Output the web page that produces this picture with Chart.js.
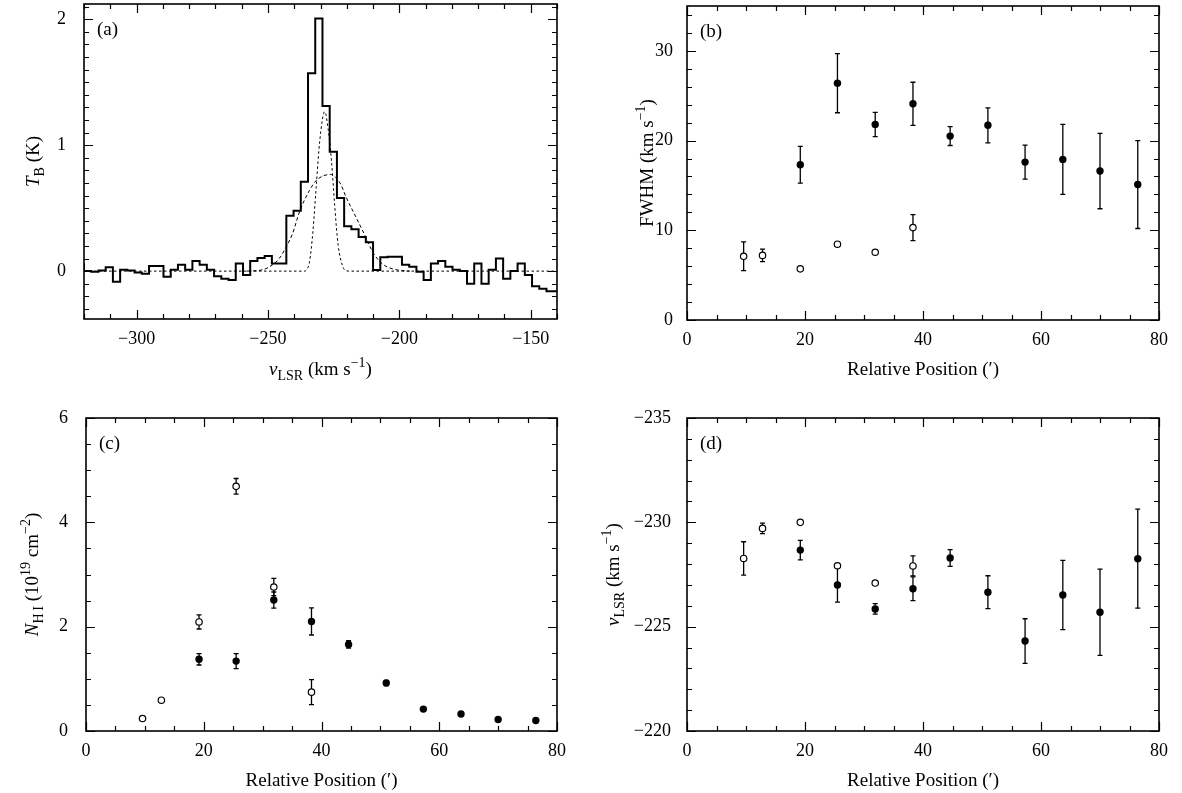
<!DOCTYPE html>
<html>
<head>
<meta charset="utf-8">
<script src="https://cdn.jsdelivr.net/npm/chart.js@4.4.0/dist/chart.umd.min.js"></script>
<style>
  body { margin: 0; background: #fff; }
  #wrap { position: relative; width: 1182px; height: 793px; }
  canvas { position: absolute; }
</style>
</head>
<body>
<div id="wrap">
  <canvas id="chartA" width="600" height="396" style="left:0;top:0"></canvas>
  <canvas id="chartB" width="582" height="396" style="left:600px;top:0"></canvas>
  <canvas id="chartC" width="600" height="397" style="left:0;top:396px"></canvas>
  <canvas id="chartD" width="582" height="397" style="left:600px;top:396px"></canvas>
</div>
<script>
// ---- panel (a): HI spectrum, channel edges (km/s) and brightness temp (K)
var velEdges = [-320, -317.25, -314.5, -311.75, -309, -306.25, -303.5, -300.75, -298, -295.25,
  -292.5, -289.75, -287, -284.25, -281.5, -278.75, -276, -273.25, -270.5, -267.75,
  -265, -262.25, -259.5, -256.75, -254, -251.25, -248.5, -245.75, -243, -240.25,
  -237.5, -234.75, -232, -229.25, -226.5, -223.75, -221, -218.25, -215.5, -212.75,
  -210, -207.25, -204.5, -201.75, -199, -196.25, -193.5, -190.75, -188, -185.25,
  -182.5, -179.75, -177, -174.25, -171.5, -168.75, -166, -163.25, -160.5, -157.75,
  -155, -152.25, -149.5, -146.75, -144, -141.25, -138.5];
var tbSpectrum = [0.06, 0.0, -0.005, 0.005, 0.03, -0.085, 0.01, 0.005, -0.01, -0.02,
  0.04, 0.04, -0.045, 0.01, 0.05, 0.01, 0.08, 0.05, 0.01, -0.04,
  -0.06, -0.07, 0.06, -0.03, 0.08, 0.105, 0.12, 0.06, 0.06, 0.44,
  0.48, 0.71, 1.57, 2.005, 1.31, 0.947, 0.58, 0.357, 0.333, 0.27,
  0.23, 0.008, 0.11, 0.115, 0.115, 0.05, 0.035, -0.005, -0.07, 0.06,
  0.08, 0.035, 0.01, 0.0, -0.1, 0.06, -0.1, 0.01, 0.1, -0.06,
  0.0, 0.06, -0.03, -0.12, -0.14, -0.16];

// fitted components
var narrowVel = [-320, -236, -235, -234.2, -232.9, -231.6, -230.3, -228.4, -227.1, -225.8, -224.6, -223.3, -221.4, -220.3, -219.5, -140];
var narrowTb  = [0, 0, 0.02, 0.07, 0.31, 0.68, 1.03, 1.265, 1.13, 0.87, 0.52, 0.21, 0.03, 0.005, 0, 0];
var broadVel = [-258, -252.1, -248.3, -245.7, -243.1, -240.6, -238.0, -234.2, -231.6, -226.2, -222.6, -220.1, -217.5, -213.7, -209.8, -206.0, -200.9, -196];
var broadTb  = [0, 0.01, 0.05, 0.1, 0.19, 0.3, 0.47, 0.64, 0.72, 0.767, 0.70, 0.58, 0.47, 0.31, 0.14, 0.05, 0.01, 0];

// ---- panels (b)-(d): relative position (arcmin)
var posOpen   = [9.6, 12.8, 19.2, 25.5, 31.9, 38.3];
var posFilled = [19.2, 25.5, 31.9, 38.3, 44.6, 51.0, 57.3, 63.7, 70.0, 76.4];

var fwhmOpen      = [7.1, 7.2, 5.7, 8.45, 7.55, 10.3];
var fwhmOpenErr   = [1.6, 0.7, 0, 0, 0, 1.45];
var fwhmFilled    = [17.3, 26.4, 21.8, 24.1, 20.5, 21.7, 17.6, 17.9, 16.6, 15.1];
var fwhmFilledErr = [2.05, 3.3, 1.35, 2.4, 1.05, 1.95, 1.9, 3.9, 4.2, 4.9];

var nhiOpen      = [0.24, 0.59, 2.09, 4.69, 2.76, 0.745];
var nhiOpenErr   = [0, 0, 0.135, 0.15, 0.165, 0.24];
var nhiFilled    = [1.375, 1.34, 2.51, 2.10, 1.66, 0.92, 0.42, 0.325, 0.22, 0.20];
var nhiFilledErr = [0.11, 0.145, 0.155, 0.26, 0.07, 0.05, 0.03, 0.03, 0.02, 0.03];

var vlsrOpen      = [-228.27, -229.71, -230.0, -227.92, -227.09, -227.91];
var vlsrOpenErr   = [0.8, 0.25, 0, 0, 0, 0.48];
var vlsrFilled    = [-228.67, -227.0, -225.85, -226.82, -228.29, -226.65, -224.31, -226.52, -225.69, -228.26];
var vlsrFilledErr = [0.47, 0.82, 0.25, 0.57, 0.4, 0.79, 1.07, 1.66, 2.07, 2.37];

var serif = '"Liberation Serif", "Times New Roman", serif';
var fontSize = 18;
var titleSize = 19;
var yAxisW = 60, xAxisH = 40;

function minus(v) { return String(v).replace('-', '\u2212'); }

function pairs(xs, ys) {
  return xs.map(function(x, i) { return { x: x, y: ys[i] }; });
}

// rich text with italics, sub- and superscripts
function segFont(s, size) {
  var sz = (s.sub || s.sup) ? Math.round(size * 0.72) : size;
  return (s.it ? 'italic ' : '') + sz + 'px ' + serif;
}
function drawRich(ctx, segs, cx, cy, size, rotated) {
  ctx.save();
  var w = 0;
  segs.forEach(function(s) { ctx.font = segFont(s, size); w += ctx.measureText(s.t).width; });
  ctx.translate(cx, cy);
  if (rotated) ctx.rotate(-Math.PI / 2);
  ctx.textBaseline = 'alphabetic';
  ctx.textAlign = 'left';
  ctx.fillStyle = '#000';
  var x = -w / 2, base = size * 0.35;
  segs.forEach(function(s) {
    ctx.font = segFont(s, size);
    var dy = s.sub ? size * 0.3 : (s.sup ? -size * 0.38 : 0);
    ctx.fillText(s.t, x, base + dy);
    x += ctx.measureText(s.t).width;
  });
  ctx.restore();
}

function stepValues(min, max, step) {
  var out = [];
  var start = Math.ceil(min / step - 1e-9) * step;
  for (var v = start; v <= max + 1e-9; v += step) out.push(Math.round(v * 1000) / 1000);
  return out;
}
function isMajor(v, major) {
  return Math.abs(v / major - Math.round(v / major)) < 1e-6;
}

var errorBars = {
  id: 'errorBars',
  beforeDatasetsDraw: function(chart) {
    var ctx = chart.ctx, ys = chart.scales.y;
    ctx.save();
    ctx.strokeStyle = '#000';
    ctx.lineWidth = 1.3;
    chart.data.datasets.forEach(function(ds, di) {
      if (!ds.errors) return;
      var meta = chart.getDatasetMeta(di);
      meta.data.forEach(function(pt, i) {
        var e = ds.errors[i];
        if (!e) return;
        var v = ds.data[i].y;
        var y1 = ys.getPixelForValue(v - e), y2 = ys.getPixelForValue(v + e);
        ctx.beginPath();
        ctx.moveTo(pt.x, y1); ctx.lineTo(pt.x, y2);
        ctx.moveTo(pt.x - 2.5, y1); ctx.lineTo(pt.x + 2.5, y1);
        ctx.moveTo(pt.x - 2.5, y2); ctx.lineTo(pt.x + 2.5, y2);
        ctx.stroke();
      });
    });
    ctx.restore();
  }
};

var decor = {
  id: 'decor',
  afterDraw: function(chart, args, o) {
    var ctx = chart.ctx, a = chart.chartArea;
    var xs = chart.scales.x, ys = chart.scales.y;
    ctx.save();
    ctx.strokeStyle = '#000';
    ctx.lineWidth = 1.2;
    ctx.beginPath();
    stepValues(xs.min, xs.max, o.xMinor).forEach(function(v) {
      var px = Math.round(xs.getPixelForValue(v)) + 0.5;
      var len = isMajor(v, o.xMajor) ? 9 : 5;
      ctx.moveTo(px, a.bottom); ctx.lineTo(px, a.bottom - len);
      ctx.moveTo(px, a.top); ctx.lineTo(px, a.top + len);
    });
    stepValues(ys.min, ys.max, o.yMinor).forEach(function(v) {
      var py = Math.round(ys.getPixelForValue(v)) + 0.5;
      var len = isMajor(v, o.yMajor) ? 9 : 5;
      ctx.moveTo(a.left, py); ctx.lineTo(a.left + len, py);
      ctx.moveTo(a.right, py); ctx.lineTo(a.right - len, py);
    });
    ctx.stroke();
    ctx.lineWidth = 1.6;
    ctx.strokeRect(a.left, a.top, a.right - a.left, a.bottom - a.top);

    ctx.fillStyle = '#000';
    ctx.font = titleSize + 'px ' + serif;
    ctx.textAlign = 'left';
    ctx.textBaseline = 'middle';
    ctx.fillText(o.label, a.left + 13, a.top + 26);
    ctx.restore();

    drawRich(ctx, o.xTitle, (a.left + a.right) / 2, a.bottom + o.xTitleGap, titleSize, false);
    drawRich(ctx, o.yTitle, a.left - o.yTitleGap, (a.top + a.bottom) / 2, titleSize, true);
  }
};

function axis(min, max, step, pad, reverse) {
  return {
    type: 'linear', min: min, max: max, reverse: !!reverse,
    border: { display: false },
    grid: { display: false, drawTicks: false },
    ticks: {
      stepSize: step, includeBounds: false, padding: pad, autoSkip: false, maxRotation: 0,
      color: '#000', font: { family: serif, size: fontSize }, callback: minus
    }
  };
}

function makePanel(id, box, area, xAx, yAx, datasets, deco) {
  xAx.afterFit = function(s) { s.height = xAxisH; s.paddingLeft = 0; s.paddingRight = 0; s.paddingTop = 0; s.paddingBottom = 0; };
  yAx.afterFit = function(s) { s.width = yAxisW; s.paddingLeft = 0; s.paddingRight = 0; s.paddingTop = 0; s.paddingBottom = 0; };
  new Chart(document.getElementById(id), {
    type: 'scatter',
    data: { datasets: datasets },
    options: {
      responsive: false,
      animation: false,
      events: [],
      layout: {
        autoPadding: false,
        padding: {
          left: area.L - box.x - yAxisW,
          right: box.x + box.w - area.R,
          top: area.T - box.y,
          bottom: box.y + box.h - area.B - xAxisH
        }
      },
      scales: { x: xAx, y: yAx },
      plugins: { legend: { display: false }, tooltip: { enabled: false }, decor: deco }
    },
    plugins: [errorBars, decor]
  });
}

function openSet(xs, ys, errs) {
  return {
    data: pairs(xs, ys), errors: errs, pointRadius: 3.2, pointBorderWidth: 1.2,
    pointBackgroundColor: '#fff', pointBorderColor: '#000', showLine: false
  };
}
function filledSet(xs, ys, errs) {
  return {
    data: pairs(xs, ys), errors: errs, pointRadius: 3.7, pointBorderWidth: 0,
    pointBackgroundColor: '#000', pointBorderColor: '#000', showLine: false
  };
}

var relPos = [{ t: 'Relative Position (\u2032)' }];
var kms = [{ t: ' (km s' }, { t: '\u22121', sup: true }, { t: ')' }];

// (a) spectrum
var histData = velEdges.map(function(v, i) {
  return { x: v, y: tbSpectrum[Math.min(i, tbSpectrum.length - 1)] };
});
makePanel('chartA', { x: 0, y: 0, w: 600, h: 396 }, { L: 84, R: 557, T: 4, B: 319 },
  axis(-320, -140, 50, 9), axis(-0.38, 2.12, 1, 18),
  [
    { data: pairs(narrowVel, narrowTb), showLine: true, pointRadius: 0, borderColor: '#000', borderWidth: 1, borderDash: [2.5, 2.5], cubicInterpolationMode: 'monotone' },
    { data: pairs(broadVel, broadTb), showLine: true, pointRadius: 0, borderColor: '#000', borderWidth: 1, borderDash: [3.5, 2.5], cubicInterpolationMode: 'monotone' },
    { data: histData, showLine: true, stepped: 'after', pointRadius: 0, borderColor: '#000', borderWidth: 2 }
  ],
  { label: '(a)', xMinor: 10, xMajor: 50, yMinor: 0.1, yMajor: 1,
    xTitle: [{ t: 'v', it: true }, { t: 'LSR', sub: true }].concat(kms), xTitleGap: 49,
    yTitle: [{ t: 'T', it: true }, { t: 'B', sub: true }, { t: ' (K)' }], yTitleGap: 52 });

// (b) FWHM
makePanel('chartB', { x: 600, y: 0, w: 582, h: 396 }, { L: 687, R: 1159, T: 6, B: 320 },
  axis(0, 80, 20, 9), axis(0, 35, 10, 14),
  [openSet(posOpen, fwhmOpen, fwhmOpenErr), filledSet(posFilled, fwhmFilled, fwhmFilledErr)],
  { label: '(b)', xMinor: 5, xMajor: 20, yMinor: 2, yMajor: 10,
    xTitle: relPos, xTitleGap: 48,
    yTitle: [{ t: 'FWHM' }].concat(kms), yTitleGap: 41 });

// (c) column density
makePanel('chartC', { x: 0, y: 396, w: 600, h: 397 }, { L: 86, R: 557, T: 418, B: 731 },
  axis(0, 80, 20, 9), axis(0, 6, 2, 18),
  [openSet(posOpen, nhiOpen, nhiOpenErr), filledSet(posFilled, nhiFilled, nhiFilledErr)],
  { label: '(c)', xMinor: 5, xMajor: 20, yMinor: 0.5, yMajor: 2,
    xTitle: relPos, xTitleGap: 48,
    yTitle: [{ t: 'N', it: true }, { t: 'H\u2009I', sub: true }, { t: ' (10' }, { t: '19', sup: true }, { t: ' cm' }, { t: '\u22122', sup: true }, { t: ')' }],
    yTitleGap: 55 });

// (d) LSR velocity
makePanel('chartD', { x: 600, y: 396, w: 582, h: 397 }, { L: 687, R: 1159, T: 418, B: 731 },
  axis(0, 80, 20, 9), axis(-235, -220, 5, 16, true),
  [openSet(posOpen, vlsrOpen, vlsrOpenErr), filledSet(posFilled, vlsrFilled, vlsrFilledErr)],
  { label: '(d)', xMinor: 5, xMajor: 20, yMinor: 1, yMajor: 5,
    xTitle: relPos, xTitleGap: 48,
    yTitle: [{ t: 'v', it: true }, { t: 'LSR', sub: true }].concat(kms), yTitleGap: 75 });
</script>
</body>
</html>
